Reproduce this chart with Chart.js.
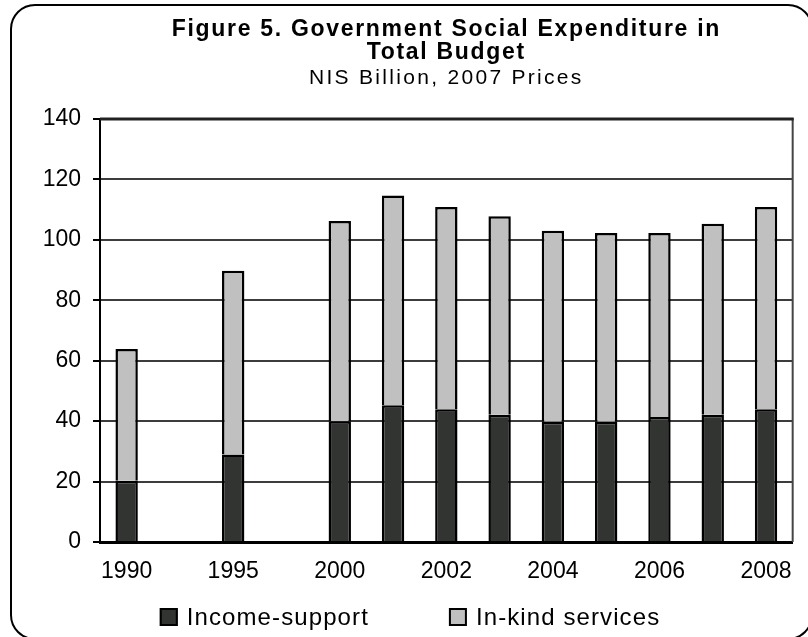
<!DOCTYPE html>
<html>
<head>
<meta charset="utf-8">
<style>
  html, body { margin: 0; padding: 0; background: #fff; }
  canvas { display: block; }
</style>
<script src="https://cdn.jsdelivr.net/npm/chart.js@4"></script>
</head>
<body>
<canvas id="chart" width="808" height="637"></canvas>
<script>
// Category slots: empty slots keep the 5-year gaps in the early years
const years = ['1990', '', '1995', '', '2000', '2001', '2002', '2003', '2004', '2005', '2006', '2007', '2008'];
// NIS billion, 2007 prices
const incomeSupport  = [20.3, null, 29.0, null, 40.0, 45.3, 43.9, 42.1, 39.8, 39.8, 41.4, 42.1, 43.9];
const inKindServices = [43.6, null, 60.8, null, 66.2, 69.4, 67.0, 65.7, 63.2, 62.5, 60.9, 63.2, 67.0];
const seriesNames = ['Income-support', 'In-kind services'];
const seriesColors = ['#323432', '#c0c0c0'];
const titleLines = ['Figure 5. Government Social Expenditure in', 'Total Budget'];
const subtitleText = 'NIS Billion, 2007 Prices';
const yMin = 0, yMax = 140, yStep = 20;

const FONT = '"Liberation Sans", Arial, sans-serif';

// Rounded outer frame and white background
const framePlugin = {
  id: 'frame',
  beforeDraw(chart) {
    const ctx = chart.ctx;
    ctx.save();
    ctx.fillStyle = '#fff';
    ctx.fillRect(0, 0, chart.width, chart.height);
    ctx.strokeStyle = '#000';
    ctx.lineWidth = 2;
    ctx.beginPath();
    ctx.roundRect(11, 5, 801, 634, 24);
    ctx.stroke();
    ctx.restore();
  }
};

// Top and right edges of the plot area
const plotEdgePlugin = {
  id: 'plotEdge',
  beforeDatasetsDraw(chart) {
    const {ctx, chartArea: a} = chart;
    ctx.save();
    ctx.strokeStyle = '#444';
    ctx.lineWidth = 2;
    ctx.beginPath();
    ctx.moveTo(a.right, a.top - 1);
    ctx.lineTo(a.right, a.bottom);
    ctx.stroke();
    ctx.strokeStyle = '#222';
    ctx.lineWidth = 3;
    ctx.beginPath();
    ctx.moveTo(a.left, a.top);
    ctx.lineTo(a.right + 1, a.top);
    ctx.stroke();
    ctx.restore();
  }
};

// Title block centred over the plot area
const titlePlugin = {
  id: 'titleBlock',
  afterDraw(chart) {
    const {ctx, chartArea: a} = chart;
    const cx = (a.left + a.right) / 2;
    ctx.save();
    ctx.fillStyle = '#000';
    ctx.textAlign = 'center';
    ctx.textBaseline = 'alphabetic';
    ctx.font = 'bold 23px ' + FONT;
    ctx.letterSpacing = '1.7px';
    ctx.fillText(titleLines[0], cx, 36);
    ctx.fillText(titleLines[1], cx, 59);
    ctx.font = '21px ' + FONT;
    ctx.letterSpacing = '2.3px';
    ctx.fillText(subtitleText, cx, 84);
    ctx.restore();
  }
};

// Legend row under the axis
const legendPlugin = {
  id: 'legendRow',
  afterDraw(chart) {
    const ctx = chart.ctx;
    const box = 18, gap = 9, itemGap = 80, cy = 617;
    ctx.save();
    ctx.font = '24px ' + FONT;
    ctx.letterSpacing = '1.1px';
    const items = chart.data.datasets.map(ds => ({
      text: ds.label, fill: ds.backgroundColor, w: ctx.measureText(ds.label).width
    }));
    let total = items.reduce((s, it) => s + box + gap + it.w, 0) + itemGap * (items.length - 1);
    let x = 410 - total / 2;
    items.forEach(it => {
      ctx.fillStyle = it.fill;
      ctx.fillRect(x, cy - box / 2, box, box);
      ctx.strokeStyle = '#000';
      ctx.lineWidth = 2;
      ctx.strokeRect(x + 1, cy - box / 2 + 1, box - 2, box - 2);
      ctx.fillStyle = '#000';
      ctx.textAlign = 'left';
      ctx.textBaseline = 'middle';
      ctx.fillText(it.text, x + box + gap, cy + 1);
      x += box + gap + it.w + itemGap;
    });
    ctx.restore();
  }
};

new Chart(document.getElementById('chart'), {
  type: 'bar',
  data: {
    labels: years,
    datasets: [
      { label: seriesNames[0], data: incomeSupport, backgroundColor: seriesColors[0] },
      { label: seriesNames[1], data: inKindServices, backgroundColor: seriesColors[1] }
    ]
  },
  options: {
    responsive: false,
    devicePixelRatio: 1,
    animation: false,
    events: [],
    layout: { padding: { top: 119, right: 10, bottom: 0, left: 0 } },
    datasets: {
      bar: {
        borderColor: '#000',
        borderWidth: 2.5,
        barPercentage: 0.42,
        categoryPercentage: 1
      }
    },
    plugins: {
      legend: { display: false },
      title: { display: false },
      tooltip: { enabled: false }
    },
    scales: {
      x: {
        stacked: true,
        grid: { display: false, drawTicks: false },
        border: { display: true, color: '#000', width: 3 },
        ticks: {
          autoSkip: false,
          maxRotation: 0,
          padding: 16,
          color: '#000',
          font: { family: FONT, size: 23 },
          callback: function (v, i) { return i % 2 === 0 ? this.getLabelForValue(v) : ''; }
        },
        afterFit(scale) { scale.height = 95; }
      },
      y: {
        stacked: true,
        min: yMin,
        max: yMax,
        grid: {
          color: '#3c3c3c',
          lineWidth: 2,
          tickColor: '#000',
          tickLength: 7,
          tickWidth: 2
        },
        border: { display: true, color: '#000', width: 2 },
        ticks: {
          stepSize: yStep,
          padding: 12,
          color: '#000',
          font: { family: FONT, size: 23 }
        },
        afterFit(scale) { scale.width = 100; }
      }
    }
  },
  plugins: [framePlugin, plotEdgePlugin, titlePlugin, legendPlugin]
});
</script>
</body>
</html>
